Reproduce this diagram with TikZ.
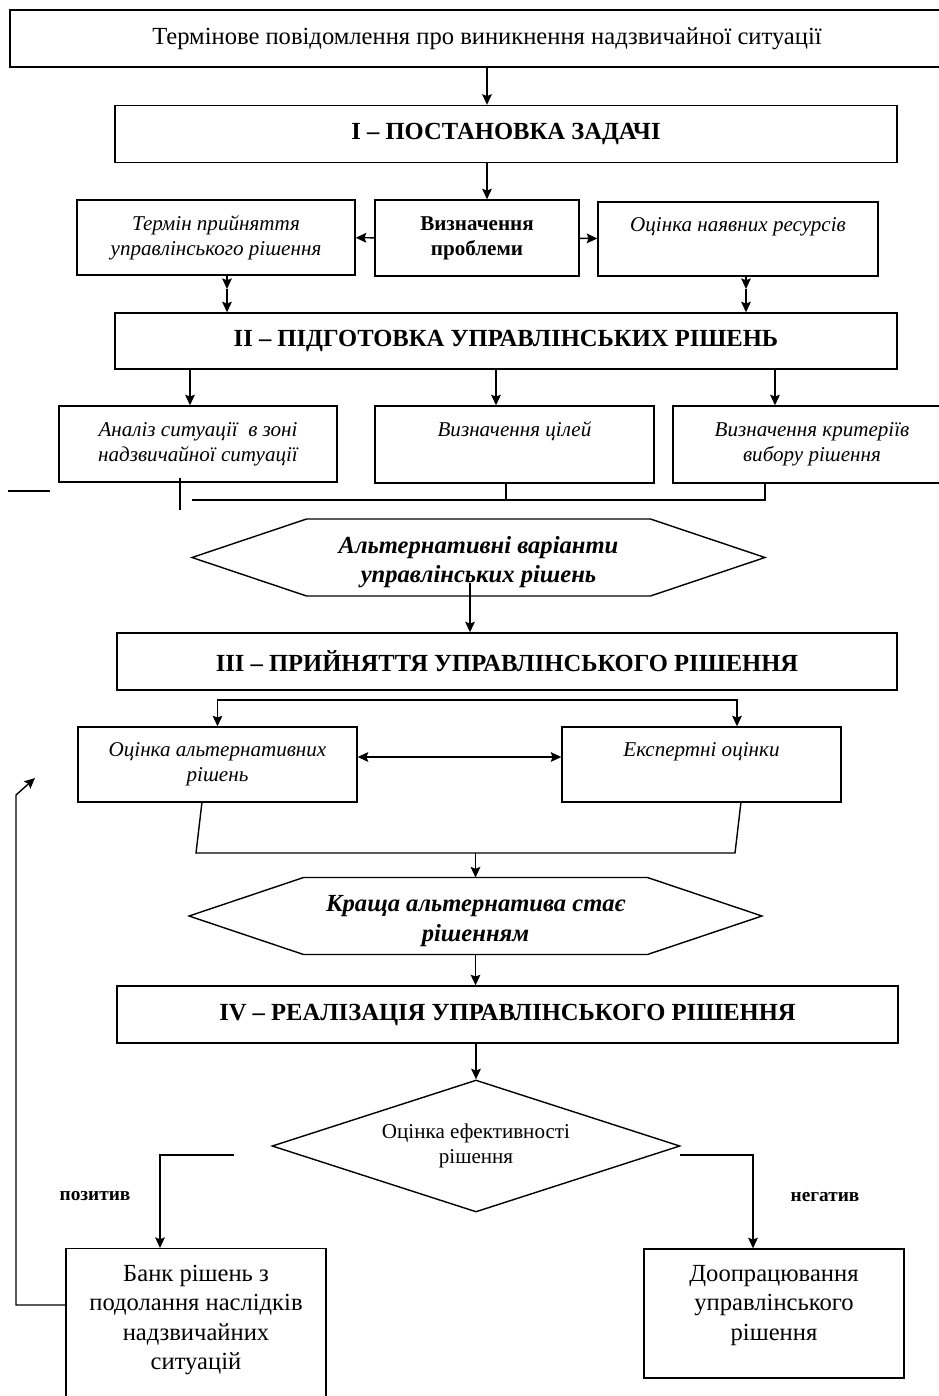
\documentclass[tikz,border=0pt]{standalone}
\usepackage{fontspec}
\setmainfont{Liberation Serif}
\usetikzlibrary{arrows.meta,shapes.geometric}

\begin{document}
\begin{tikzpicture}[x=0.02cm,y=-0.02cm,>={Stealth[length=6pt,width=5.5pt,inset=1pt]},thick]
\tikzset{Box/.style = {draw,rectangle,thick,align=center,inner sep=2pt},
         Big/.style = {font=\fontsize{14pt}{16.8pt}\selectfont},
         Stage/.style = {Box,font=\fontsize{14pt}{16.8pt}\selectfont\bfseries,
                         minimum width=15.64cm,minimum height=1.14cm},
         Item/.style = {Box,font=\fontsize{12pt}{14.4pt}\selectfont\itshape,
                        minimum width=5.56cm,minimum height=1.5cm},
         Top/.style = {anchor=north,inner sep=8.8pt,align=center,
                       font=\fontsize{12pt}{14.4pt}\selectfont\itshape},
         TopBig/.style = {anchor=north,inner sep=9.5pt,align=center,
                          font=\fontsize{14pt}{16.6pt}\selectfont},
         Hexa/.style = {align=center,inner sep=0pt,outer sep=0pt,
                        text height=30.2pt,text depth=1.6pt,
                        minimum width=11.46cm,minimum height=1.54cm,
                        font=\fontsize{14pt}{16.8pt}\selectfont\bfseries\itshape},
         Rhomb/.style = {draw,diamond,thick,align=center,inner sep=0pt,aspect=3.09,
                         minimum width=8.16cm,minimum height=2.64cm,
                         font=\fontsize{12pt}{14.4pt}\selectfont},
         Tag/.style = {font=\fontsize{11pt}{13pt}\selectfont\bfseries}}
\useasboundingbox (0,0) rectangle (939,1396);
\clip (0,0) rectangle (939,1396);
% stage I
\node[Box,Big,minimum width=19.08cm,minimum height=1.14cm] (msg) at (487,38.5)
  {Термінове повідомлення про виникнення надзвичайної ситуації};
\node[Stage] (st1) at (506,134) {I – ПОСТАНОВКА ЗАДАЧІ};
\node[Item] (term) at (216,237.5) {Термін прийняття\\управлінського рішення};
\node[Box,font=\fontsize{12pt}{14.4pt}\selectfont\bfseries,
      minimum width=4.08cm,minimum height=1.52cm] (prob) at (477,238) {Визначення\\проблеми};
\node[Item,minimum width=5.6cm,minimum height=1.48cm,
      label={[Top]north:Оцінка наявних ресурсів}] (res) at (738,239) {};
% stage II
\node[Stage,minimum height=1.12cm] (st2) at (506,341) {II – ПІДГОТОВКА УПРАВЛІНСЬКИХ РІШЕНЬ};
\node[Item,minimum height=1.52cm] (anal) at (198,444) {Аналіз ситуації~ в зоні\\надзвичайної ситуації};
\node[Item,minimum width=5.58cm,minimum height=1.54cm,
      label={[Top]north:Визначення цілей}] (goal) at (514.5,444.5) {};
\node[Item,minimum height=1.54cm] (crit) at (812,444.5) {Визначення критеріїв\\вибору рішення};
\node[Hexa] (alt) at (478.5,557.5) {Альтернативні варіанти\\управлінських рішень};
% stage III
\node[Stage,minimum width=15.6cm] (st3) at (507,661.5) {III – ПРИЙНЯТТЯ УПРАВЛІНСЬКОГО РІШЕННЯ};
\node[Item,minimum width=5.58cm] (evalalt) at (217.5,764.5) {Оцінка альтернативних\\рішень};
\node[Item,minimum width=5.58cm,
      label={[Top]north:Експертні оцінки}] (expert) at (701.5,764.5) {};
\node[Hexa] (best) at (475.5,916) {Краща альтернатива стає\\рішенням};
% stage IV
\node[Stage,minimum width=15.62cm] (st4) at (507.5,1014.5) {IV – РЕАЛІЗАЦІЯ УПРАВЛІНСЬКОГО РІШЕННЯ};
\node[Rhomb] (eff) at (476,1146) {Оцінка ефективності\\рішення};
\node[Box,minimum width=5.2cm,minimum height=3.4cm,anchor=north,
      label={[TopBig]north:Банк рішень з\\подолання наслідків\\надзвичайних\\ситуацій}] (bank) at (196,1248) {};
\node[Box,minimum width=5.2cm,minimum height=2.58cm,
      label={[TopBig]north:Доопрацювання\\управлінського\\рішення}] (rework) at (774,1313.5) {};
\node[Tag] (pos) at (95,1196) {позитив};
\node[Tag] (neg) at (825,1197) {негатив};

\foreach \h in {alt,best}
  \draw (\h.west) -- ([xshift=2.29cm]\h.north west) -- ([xshift=-2.29cm]\h.north east)
     -- (\h.east) -- ([xshift=-2.29cm]\h.south east) -- ([xshift=2.29cm]\h.south west) -- cycle;

\draw[->] (msg) -- (msg |- st1.north);
\draw[->] (st1.south -| msg) -- (prob.north -| msg);
\draw[->] (prob) -- (term);
\draw[->] (prob) -- (res);
\coordinate (t1) at (227,289);
\coordinate (r1) at (746,289);
\draw[->] (term.south -| t1) -- (t1);
\draw[->] (t1) -- (t1 |- st2.north);
\draw[->] (res.south -| r1) -- (r1);
\draw[->] (r1) -- (r1 |- st2.north);

\foreach \x/\n in {190/anal,496/goal,775/crit}{
  \coordinate (d) at (\x,0);
  \draw[->] (st2.south -| d) -- (\n.north -| d);
}
\draw (8,491) -- (50,491);
\draw (180,478) -- (180,510);
\coordinate (j1) at (192,500);
\coordinate (j2) at (506,500);
\coordinate (j3) at (765,500);
\draw (goal.south -| j2) -- (j2);
\draw (crit.south -| j3) |- (j1);

\coordinate (a1) at (470,583);
\draw[->] (a1) -- (a1 |- st3.north);
\coordinate (e1) at (737,700);
\draw[<->] (evalalt.north) |- (e1) -- (e1 |- expert.north);
\coordinate (c1) at (466,757);
\draw[<->] (evalalt.east |- c1) -- (expert.west |- c1);
\coordinate (m0) at (202,802);
\coordinate (m1) at (196,853);
\coordinate (m2) at (735,853);
\coordinate (m3) at (741,802);
\draw (m0) -- (m1) -- (m2) -- (m3);
\draw[->] (best.north |- m1) -- (best.north);
\draw[->] (best.south) -- (best.south |- st4.north);

\draw[->] (st4.south -| eff) -- (eff);
\coordinate (p0) at (234,1155);
\coordinate (p1) at (160,1155);
\draw[->] (p0) -- (p1) -- (p1 |- bank.north);
\coordinate (n0) at (680,1155);
\coordinate (n1) at (753,1155);
\draw[->] (n0) -- (n1) -- (n1 |- rework.north);
\coordinate (k1) at (16,1305);
\coordinate (k2) at (16,795);
\coordinate (k3) at (35,778);
\draw[->] (bank.west |- k1) -- (k1) -- (k2) -- (k3);
\end{tikzpicture}
\end{document}
